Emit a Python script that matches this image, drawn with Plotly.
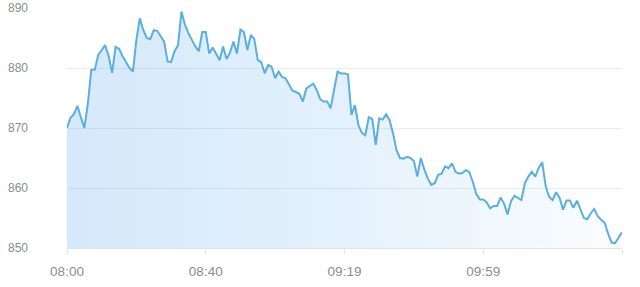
import plotly.graph_objects as go

values = [
    870.0, 871.7, 872.3, 873.7, 871.8, 870.0, 874.0, 879.7, 879.7, 882.2,
    883.0, 883.8, 882.0, 879.2, 883.5, 883.2, 882.0, 881.0, 880.0, 879.4,
    884.7, 888.3, 886.3, 885.0, 884.8, 886.3, 886.2, 885.3, 884.4, 881.1,
    881.0, 882.8, 883.8, 889.4, 887.2, 885.8, 884.7, 883.6, 882.8, 886.0,
    886.0, 882.4, 883.4, 882.4, 881.3, 883.6, 881.5, 882.6, 884.4, 882.4,
    886.4, 886.0, 883.0, 885.5, 884.8, 881.3, 881.0, 879.1, 880.5, 880.2,
    878.3, 879.4, 878.5, 878.3, 877.2, 876.2, 876.0, 875.7, 874.4, 876.6,
    877.0, 877.4, 876.3, 874.8, 874.4, 874.4, 873.3, 876.5, 879.4, 879.1,
    879.1, 878.9, 872.2, 873.8, 870.5, 869.2, 868.8, 871.8, 871.5, 867.2,
    871.6, 871.4, 872.3, 871.3, 869.1, 866.3, 865.0, 864.9, 865.2, 865.0,
    864.5, 861.9, 865.0, 863.1, 861.6, 860.5, 860.8, 862.2, 862.4, 863.6,
    863.3, 864.1, 862.7, 862.4, 862.5, 863.0, 862.6, 861.0, 859.0, 858.1,
    858.1, 857.6, 856.6, 857.0, 857.0, 858.4, 857.4, 855.6, 857.8, 858.7,
    858.3, 858.0, 860.8, 861.9, 862.7, 861.9, 863.4, 864.3, 860.3, 858.5,
    858.0, 859.3, 858.4, 856.4, 857.9, 857.9, 856.7, 857.9, 856.5, 855.0,
    854.8, 855.8, 856.5, 855.3, 854.7, 854.2, 852.4, 850.9, 850.8, 851.7,
    852.6,
]
x_index = list(range(len(values)))
tick_positions = [0, 40, 80, 120, 160]
tick_labels = ["08:00", "08:40", "09:19", "09:59", ""]
y_ticks = [850, 860, 870, 880, 890]

fig = go.Figure()
fig.add_trace(go.Scatter(
    x=x_index, y=values, mode="lines",
    line=dict(color="#5aafe0", width=2),
    fill="tozeroy",
    fillgradient=dict(type="horizontal",
                      colorscale=[[0, "rgba(60,155,235,0.22)"],
                                  [0.5, "rgba(60,155,235,0.14)"],
                                  [1, "rgba(60,155,235,0.02)"]]),
    hoverinfo="skip",
))
fig.update_layout(
    width=640, height=287,
    margin=dict(l=67, r=18, t=8, b=39),
    paper_bgcolor="white", plot_bgcolor="white",
    showlegend=False,
    font=dict(family="Liberation Sans, Arial, sans-serif", color="#8c8c8c"),
)
fig.update_xaxes(
    range=[0, 160], tickmode="array", tickvals=tick_positions, ticktext=tick_labels,
    showgrid=False, zeroline=False,
    showline=True, linecolor="#e3e3e3", linewidth=1,
    ticks="outside", ticklen=5, tickcolor="#e3e3e3",
    tickfont=dict(size=13.5, color="#8c8c8c"),
    ticklabelstandoff=6, automargin=False,
)
fig.update_yaxes(
    range=[850, 890], tickmode="array", tickvals=y_ticks,
    showgrid=True, gridcolor="#ececec", gridwidth=1, zeroline=False,
    showline=False, ticks="",
    tickfont=dict(size=12, color="#8c8c8c"),
    ticklabelstandoff=38, automargin=False,
)
fig.write_html("out.html")
